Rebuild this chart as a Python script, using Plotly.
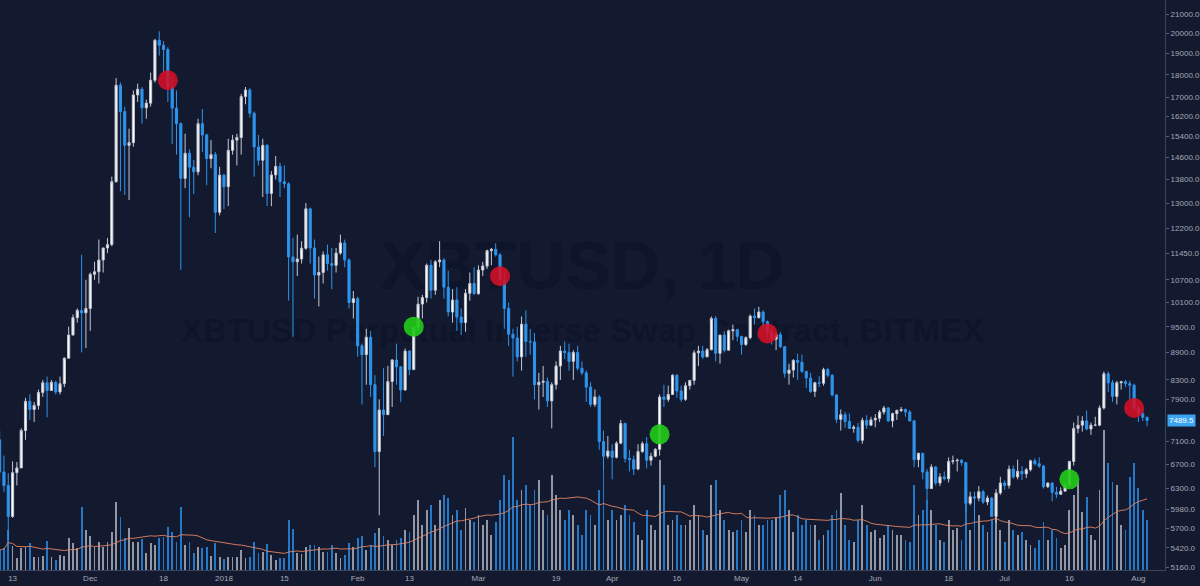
import math
import plotly.graph_objects as go
import pandas as pd

START = "2017-11-10"
END = "2018-08-03"
dates = pd.date_range(START, END, freq="D")

open_ = [
    # Nov
    7130, 6570, 6350, 5870, 6560, 6640, 7300, 7860, 7700, 7780, 8040, 8240, 8080, 8250, 8050, 8220, 8770, 9300, 9720, 9900, 9840,
    # Dec
    9950, 10850, 10920, 11250, 11600, 11700, 13720, 17530, 16400, 15050, 15150, 17100, 17350, 16550, 16750, 17750, 19650, 19400, 19190, 17460,
    16540, 15900, 13840, 14750, 14240, 14070, 15900, 15450, 14550, 14700, 12700,
    # Jan
    13950, 13550, 14860, 15250, 15350, 17030, 17320, 16330, 14990, 14490, 15050, 13320, 13960, 14270, 13720, 13650, 11340, 11200, 11280, 11590,
    12810, 11600, 10830, 10900, 11400, 11150, 11100, 11450, 11750, 11250, 10100,
    # Feb
    10200, 9050, 8850, 9250, 8200, 6920, 7690, 7600, 8265, 8730, 8580, 8090, 8930, 8520, 9480, 10060, 10230, 11100, 10420, 11200,
    11250, 10500, 9860, 10165, 9735, 9600, 10340, 10600,
    # Mar
    10330, 10970, 11080, 11520, 11560, 11400, 10700, 9950, 9320, 9230, 8800, 9560, 9150, 9140, 8200, 8250, 8270, 7870, 8200, 8600,
    8930, 8900, 8700, 8900, 8550, 8450, 8150, 7800, 7950, 7100, 6840,
    # Apr
    6930, 6820, 7070, 7430, 6800, 6780, 6620, 6920, 7060, 6770, 6840, 6960, 7950, 7900, 8000, 8400, 8070, 7900, 8180, 8290,
    8890, 8930, 8800, 8960, 9700, 8880, 9300, 8950, 9400, 9430,
    # May
    9270, 9080, 9240, 9760, 9720, 9860, 9620, 9370, 9200, 9310, 9030, 8440, 8510, 8720, 8680, 8480, 8340, 8060, 8240, 8230,
    8520, 8400, 7990, 7510, 7600, 7470, 7340, 7360, 7120, 7490, 7400,
    # Jun
    7500, 7530, 7650, 7730, 7480, 7620, 7680, 7700, 7650, 7480, 6780, 6890, 6570, 6300, 6655, 6390, 6490, 6460, 6750, 6760,
    6770, 6730, 6070, 6170, 6150, 6250, 6090, 6150, 5870, 6230,
    # Jul
    6390, 6350, 6620, 6490, 6580, 6540, 6610, 6760, 6710, 6670, 6330, 6390, 6240, 6210, 6260, 6360, 6750, 7340, 7400, 7480,
    7330, 7400, 7400, 7730, 8430, 8240, 7960, 8240, 8260, 8220, 8190,
    # Aug
    7730, 7620, 7550,
]

high = [
    7300, 6850, 6550, 6750, 6740, 7340, 7930, 8000, 7850, 8100, 8300, 8370, 8300, 8280, 8370, 8790, 9500, 9800, 9950, 11400, 10700,
    10900, 11200, 11850, 11600, 11900, 13900, 17850, 17650, 16600, 15700, 17300, 17600, 17450, 16900, 18100, 19700, 20100, 19600, 19300, 17900,
    17300, 15950, 15500, 14900, 14500, 16100, 16500, 15500, 15250, 14800, 14250,
    14000, 15300, 15450, 15500, 17150, 17450, 17400, 16400, 15450, 15300, 15100, 14100, 14650, 14400, 14300, 13700, 11900, 12000, 11800, 13000,
    12850, 11850, 11350, 11500, 11700, 11600, 11600, 12000, 11850, 11300, 10400,
    10250, 9100, 9450, 9400, 8400, 7900, 8550, 8600, 8750, 9100, 8600, 8990, 8950, 9500, 10250, 10300, 11150, 11250, 11250, 11800,
    11300, 10950, 10450, 10500, 9950, 10450, 10900, 11050,
    11100, 11200, 11550, 11600, 11740, 11450, 10900, 10100, 9450, 9500, 9750, 9900, 9450, 9350, 8450, 8600, 8350, 8250, 8700, 9050,
    9150, 9100, 8950, 9050, 8700, 8500, 8250, 8100, 7990, 7300, 7200,
    7050, 7100, 7500, 7450, 6950, 6850, 7050, 7100, 7180, 6900, 6980, 8000, 8200, 8180, 8420, 8420, 8180, 8250, 8300, 8950,
    9050, 9050, 9000, 9750, 9760, 9300, 9390, 9430, 9550, 9450,
    9270, 9270, 9800, 9950, 9990, 9900, 9650, 9480, 9360, 9370, 9030, 8650, 8750, 8870, 8850, 8500, 8450, 8260, 8380, 8560,
    8560, 8420, 8000, 7700, 7650, 7620, 7400, 7440, 7540, 7590, 7560,
    7610, 7690, 7770, 7750, 7640, 7700, 7750, 7720, 7690, 7500, 6900, 6900, 6620, 6700, 6670, 6550, 6580, 6820, 6850, 6800,
    6790, 6740, 6250, 6250, 6340, 6280, 6190, 6170, 6290, 6490,
    6430, 6680, 6680, 6780, 6670, 6640, 6780, 6800, 6820, 6690, 6400, 6400, 6330, 6320, 6400, 6760, 7450, 7580, 7570, 7680,
    7450, 7560, 7780, 8480, 8480, 8300, 8280, 8280, 8300, 8280, 8220,
    7760, 7720, 7560,
]

low = [
    6400, 6250, 5530, 5850, 6350, 6640, 7130, 7500, 7460, 7700, 7950, 7550, 8080, 8000, 8000, 8150, 8770, 9300, 9600, 8900, 9000,
    9400, 10700, 10600, 10900, 11450, 11650, 13700, 13400, 13270, 13100, 15000, 16800, 15900, 16100, 16600, 17650, 18900, 18100, 16800, 15100,
    14700, 10970, 13500, 12540, 13300, 13950, 14800, 13600, 14200, 12050, 12600,
    12800, 12900, 14700, 14300, 14700, 16700, 16150, 13900, 14300, 13200, 12900, 12900, 13800, 13200, 13500, 10150, 9260, 10800, 11150, 11550,
    11150, 10200, 10000, 10600, 10950, 10450, 10900, 11400, 11050, 9950, 9700,
    8800, 7800, 8200, 7950, 6650, 5890, 7200, 7600, 7750, 8200, 7850, 8080, 8400, 8520, 9400, 9700, 10100, 10200, 10300, 11050,
    10200, 9750, 9600, 9400, 9300, 9380, 10150, 10300,
    10300, 10800, 11000, 11100, 11350, 10550, 9450, 9050, 8370, 8700, 8500, 8800, 8850, 7900, 7700, 7950, 7750, 7340, 8100, 8300,
    8750, 8500, 8300, 8500, 8400, 7850, 7750, 7750, 6950, 6600, 6800,
    6450, 6800, 7050, 6730, 6580, 6520, 6600, 6900, 6630, 6680, 6820, 6850, 7750, 7850, 7990, 7930, 7850, 7870, 8100, 8200,
    8600, 8750, 8800, 8950, 8700, 8650, 8900, 8950, 9180, 9150,
    8850, 9050, 9200, 9550, 9700, 9450, 9200, 9080, 8950, 9000, 8350, 8200, 8350, 8300, 8450, 8130, 8030, 7950, 8150, 8180,
    8350, 7960, 7440, 7300, 7350, 7340, 7260, 7080, 7060, 7330, 7390,
    7360, 7460, 7600, 7460, 7360, 7500, 7650, 7560, 7470, 6650, 6650, 6450, 6120, 6300, 6350, 6340, 6430, 6400, 6700, 6580,
    6680, 5950, 6040, 5780, 6100, 6060, 6040, 5860, 5780, 6200,
    6280, 6300, 6460, 6450, 6440, 6470, 6580, 6680, 6640, 6300, 6310, 6100, 6150, 6200, 6250, 6330, 6680, 7250, 7280, 7300,
    7220, 7380, 7380, 7700, 8050, 7850, 7800, 8100, 8150, 7880, 7680,
    7460, 7480, 7380,
]

close = [
    6570, 6350, 5870, 6560, 6640, 7300, 7860, 7700, 7780, 8040, 8240, 8080, 8250, 8050, 8220, 8770, 9300, 9720, 9900, 9840, 9950,
    10850, 10920, 11250, 11600, 11700, 13720, 17530, 16400, 15050, 15150, 17100, 17350, 16550, 16750, 17750, 19650, 19400, 19190, 17460, 16540,
    15900, 13840, 14750, 14240, 14070, 15900, 15450, 14550, 14700, 12700, 13950,
    13550, 14860, 15250, 15350, 17030, 17320, 16330, 14990, 14490, 15050, 13320, 13960, 14270, 13720, 13650, 11340, 11200, 11280, 11590, 12810,
    11600, 10830, 10900, 11400, 11150, 11100, 11450, 11750, 11250, 10100, 10200,
    9050, 8850, 9250, 8200, 6920, 7690, 7600, 8265, 8730, 8580, 8090, 8930, 8520, 9480, 10060, 10230, 11100, 10420, 11200, 11250,
    10500, 9860, 10165, 9735, 9600, 10340, 10600, 10330,
    10970, 11080, 11520, 11560, 11400, 10700, 9950, 9320, 9230, 8800, 9560, 9150, 9140, 8200, 8250, 8270, 7870, 8200, 8600, 8930,
    8900, 8700, 8900, 8550, 8450, 8150, 7800, 7950, 7100, 6840, 6930,
    6820, 7070, 7430, 6800, 6780, 6620, 6920, 7060, 6770, 6840, 6960, 7950, 7900, 8000, 8400, 8070, 7900, 8180, 8290, 8890,
    8930, 8800, 8960, 9700, 8880, 9300, 8950, 9400, 9430, 9270,
    9080, 9240, 9760, 9720, 9860, 9620, 9370, 9200, 9310, 9030, 8440, 8510, 8720, 8680, 8480, 8340, 8060, 8240, 8230, 8520,
    8400, 7990, 7510, 7600, 7470, 7340, 7360, 7120, 7490, 7400, 7500,
    7530, 7650, 7730, 7480, 7620, 7680, 7700, 7650, 7480, 6780, 6890, 6570, 6300, 6655, 6390, 6490, 6460, 6750, 6760, 6770,
    6730, 6070, 6170, 6150, 6250, 6090, 6150, 5870, 6230, 6390,
    6350, 6620, 6490, 6580, 6540, 6610, 6760, 6710, 6670, 6330, 6390, 6240, 6210, 6260, 6360, 6750, 7340, 7400, 7480, 7330,
    7400, 7400, 7730, 8430, 8240, 7960, 8240, 8260, 8220, 8190, 7730,
    7620, 7550, 7489.5,
]

# daily volume (thousand BTC)
volume = [
    20, 22, 40, 24, 12, 22, 23, 27, 13, 13, 14, 29, 13, 10, 15, 14, 32, 27, 22, 63, 40,
    34, 23, 28, 23, 28, 38, 68, 53, 32, 42, 28, 28, 31, 17, 27, 25, 32, 33, 43, 38, 28, 63, 25, 28, 17, 23, 22, 23, 14, 27, 13,
    11, 13, 13, 13, 20, 12, 13, 28, 17, 18, 26, 15, 10, 12, 12, 50, 41, 17, 16, 23, 25, 25, 23, 18, 18, 25, 17, 12, 15, 27, 23,
    32, 34, 20, 25, 37, 42, 34, 30, 25, 30, 32, 40, 38, 55, 70, 45, 60, 65, 45, 70, 75, 72, 55, 60, 40, 62, 50, 48,
    55, 45, 50, 35, 48, 70, 95, 90, 133, 70, 80, 85, 65, 80, 90, 60, 55, 95, 75, 60, 50, 60, 55, 45, 35, 60, 55, 45, 80, 100, 50,
    60, 50, 55, 65, 55, 48, 35, 30, 60, 45, 40, 110, 85, 45, 50, 55, 45, 45, 50, 65, 55, 40, 35, 85, 90, 60, 50, 40, 38, 40,
    50, 38, 60, 55, 45, 45, 50, 50, 52, 75, 80, 60, 38, 55, 45, 50, 45, 45, 30, 35, 40, 55, 60, 77, 45, 30, 28, 50, 65, 45, 38,
    40, 32, 35, 45, 40, 35, 35, 30, 28, 85, 55, 60, 70, 60, 45, 30, 28, 50, 40, 42, 30, 80, 40, 70, 55, 45, 38, 50, 60, 40,
    28, 50, 40, 35, 38, 30, 25, 22, 30, 48, 30, 40, 32, 22, 25, 60, 75, 90, 58, 73, 35, 30, 80, 140, 107, 88, 85, 45, 40, 93, 107,
    82, 60, 50,
]

dot_dates = ["2017-12-19", "2018-02-14", "2018-03-06", "2018-04-12", "2018-05-07", "2018-07-16", "2018-07-31"]
dot_prices = [17750, 9500, 10800, 7230, 9340, 6450, 7730]
dot_kind = ["sell", "buy", "sell", "buy", "sell", "buy", "sell"]

tick_dates = ["2017-11-13", "2017-12-01", "2017-12-18", "2018-01-01", "2018-01-15", "2018-02-01", "2018-02-13",
              "2018-03-01", "2018-03-19", "2018-04-01", "2018-04-16", "2018-05-01", "2018-05-14", "2018-06-01",
              "2018-06-18", "2018-07-01", "2018-07-16", "2018-08-01"]
tick_text = ["13", "Dec", "18", "2018", "15", "Feb", "13", "Mar", "19", "Apr", "16", "May", "14", "Jun",
             "18", "Jul", "16", "Aug"]
price_ticks = [21000, 20000, 19000, 18000, 17000, 16200, 15400, 14600, 13800, 13000, 12200, 11450, 10700,
               10100, 9500, 8900, 8300, 7900, 7100, 6700, 6300, 5980, 5700, 5420, 5160]

watermark_title = "XBTUSD, 1D"
watermark_sub = "XBTUSD Perpetual Inverse Swap Contract, BITMEX"

BG = "#131a30"
WM = "#0e1429"
UP = "#ffffff"
UP_WICK = "#c4c8d2"
DN = "#2e94ec"
UP_VOL = "rgba(196,200,212,0.72)"
DN_VOL = "rgba(40,142,232,0.82)"
AXIS_TXT = "#a4a8b3"
FONT = "Liberation Sans, Arial, sans-serif"

assert len(open_) == len(high) == len(low) == len(close) == len(volume) == len(dates)

vol_colors = [UP_VOL if c >= o else DN_VOL for o, c in zip(open_, close)]
vol_ma = pd.Series(volume, dtype=float).rolling(20, min_periods=1).mean()
dot_colors = ["rgba(214,16,38,0.88)" if k == "sell" else "rgba(34,200,26,0.92)" for k in dot_kind]

fig = go.Figure()
fig.add_trace(go.Bar(x=dates, y=volume, marker=dict(color=vol_colors, line=dict(width=0)),
                     width=0.42 * 86400000, yaxis="y", hoverinfo="skip"))
fig.add_trace(go.Scatter(x=dates, y=vol_ma, mode="lines", yaxis="y",
                         line=dict(color="rgba(226,132,96,0.9)", width=1), hoverinfo="skip"))
fig.add_trace(go.Candlestick(x=dates, open=open_, high=high, low=low, close=close, yaxis="y2",
                             increasing=dict(line=dict(color=UP_WICK, width=1), fillcolor=UP),
                             decreasing=dict(line=dict(color=DN, width=1), fillcolor=DN),
                             whiskerwidth=0))
fig.add_trace(go.Scatter(x=pd.to_datetime(dot_dates), y=dot_prices, mode="markers", yaxis="y2",
                         marker=dict(size=20, color=dot_colors, line=dict(width=0)), hoverinfo="skip"))

fig.update_layout(
    width=1200, height=586, autosize=False,
    margin=dict(l=0, r=35, t=0, b=16, pad=0),
    paper_bgcolor=BG, plot_bgcolor=BG,
    showlegend=False,
    font=dict(family=FONT, size=8, color=AXIS_TXT),
    bargap=0,
    xaxis=dict(type="date", range=["2017-11-10 02:00", "2018-08-07 04:00"],
               tickvals=pd.to_datetime(tick_dates), ticktext=tick_text,
               showgrid=False, zeroline=False, showline=True, linecolor="#3c4458", linewidth=1,
               ticks="", tickfont=dict(size=8, color=AXIS_TXT, family=FONT),
               rangeslider=dict(visible=False), fixedrange=True),
    yaxis=dict(range=[0, 570], visible=False, showgrid=False, fixedrange=True),
    yaxis2=dict(type="log", overlaying="y", side="right",
                range=[3.70967, 4.33764],
                tickvals=price_ticks, ticktext=[f"{v:.1f}" for v in price_ticks],
                ticks="outside", ticklen=3, tickcolor="#5a6175",
                showgrid=False, zeroline=False, showline=True, linecolor="#3c4458", linewidth=1,
                tickfont=dict(size=8, color=AXIS_TXT, family=FONT), fixedrange=True),
)

# last price label on the axis
fig.add_annotation(x=1, xref="paper", xanchor="left", xshift=2,
                   y=math.log10(close[-1]), yref="y2", yanchor="middle",
                   text=f"{close[-1]:.1f}", showarrow=False,
                   font=dict(size=8, color="#ffffff", family=FONT),
                   bgcolor="#3aa3f2", borderpad=1)

# watermark, drawn below the traces
fig.add_shape(type="rect", xref="paper", yref="paper", x0=0.05, x1=0.95, y0=0.485, y1=0.605,
              line=dict(width=0), fillcolor="rgba(0,0,0,0)", layer="below",
              label=dict(text=watermark_title, textposition="middle center",
                         font=dict(size=68, color=WM, family=FONT, weight="bold")))
fig.add_shape(type="rect", xref="paper", yref="paper", x0=0.0, x1=1.0, y0=0.395, y1=0.455,
              line=dict(width=0), fillcolor="rgba(0,0,0,0)", layer="below",
              label=dict(text=watermark_sub, textposition="middle center",
                         font=dict(size=33, color=WM, family=FONT, weight="bold")))

fig.write_html("out.html")
